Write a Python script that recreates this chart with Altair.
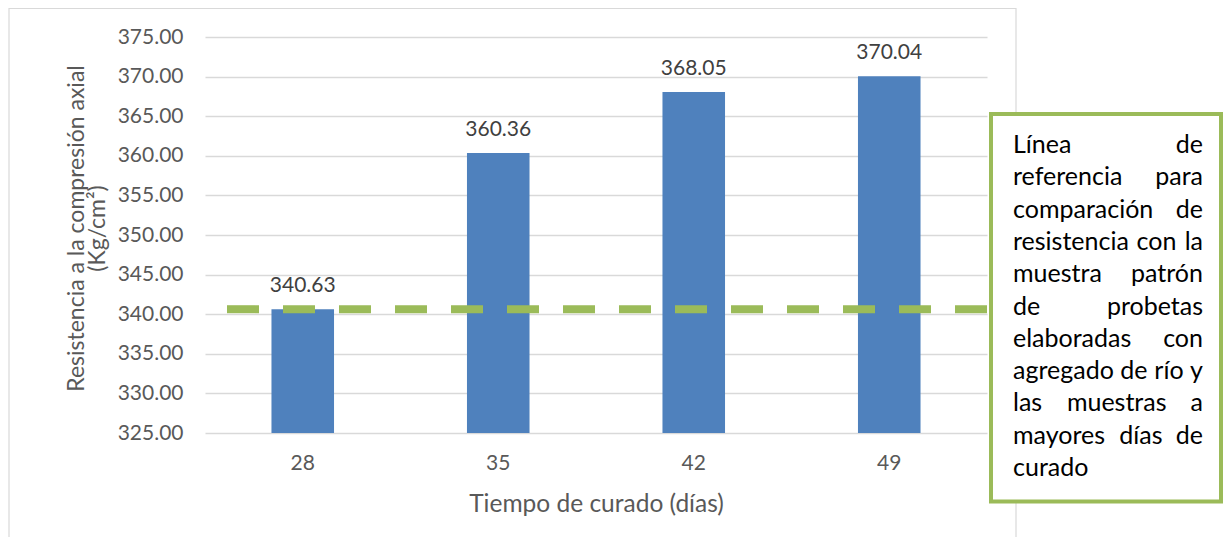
import altair as alt
import pandas as pd

# ---------------- data ----------------
dias = ["28", "35", "42", "49"]
resistencia = [340.63, 360.36, 368.05, 370.04]
referencia = 340.63
y_ticks = [325, 330, 335, 340, 345, 350, 355, 360, 365, 370, 375]
y_title = ["Resistencia a la compresión axial", "(Kg/cm²)"]
x_title = "Tiempo de curado (días)"
nota_lineas = [
    ["Línea", "de"],
    ["referencia", "para"],
    ["comparación", "de"],
    ["resistencia", "con", "la"],
    ["muestra", "patrón"],
    ["de", "probetas"],
    ["elaboradas", "con"],
    ["agregado", "de", "río", "y"],
    ["las", "muestras", "a"],
    ["mayores", "días", "de"],
    ["curado"],
]

# ---------------- layout ----------------
FONT = "Lato"
W, H = 782, 396
PAD_L, PAD_T = 197, 29
BOX_FS = 25
BOX_X0, BOX_X1 = 808, 998   # text block edges (plot coords)
BOX_Y0, BOX_DY = 108, 32.3

# approximate glyph advances (em) for justified layout
adv = {c: 0.55 for c in "abcdeghknopqsuvxyzáéóú"}
adv.update({"i": 0.24, "í": 0.24, "l": 0.24, "j": 0.24, "f": 0.32, "t": 0.34,
            "r": 0.37, "m": 0.83, "w": 0.76, "s": 0.42, "c": 0.46, "a": 0.50,
            "L": 0.49, "y": 0.49, "e": 0.52, "g": 0.50})

def wlen(word):
    return sum(adv.get(ch, 0.55) for ch in word) * BOX_FS

left_rows, right_rows = [], []
for i, words in enumerate(nota_lineas):
    yy = BOX_Y0 + i * BOX_DY
    if len(words) == 1:
        left_rows.append({"w": words[0], "px": BOX_X0, "py": yy})
        continue
    total = sum(wlen(w) for w in words)
    gap = (BOX_X1 - BOX_X0 - total) / (len(words) - 1)
    x = BOX_X0
    for j, w in enumerate(words):
        if j == len(words) - 1:
            right_rows.append({"w": w, "px": BOX_X1, "py": yy})
        else:
            left_rows.append({"w": w, "px": x, "py": yy})
        x += wlen(w) + gap

df = pd.DataFrame({"dia": dias, "valor": resistencia})
yscale = alt.Scale(domain=[y_ticks[0], y_ticks[-1]], nice=False, zero=False)
xscale = alt.Scale(domain=dias, paddingInner=0.68, paddingOuter=0.34)

x_axis = alt.Axis(labelAngle=0, ticks=False, domain=False, labelFontSize=21,
                  labelColor="#595959", labelPadding=19, titleFontSize=24.5,
                  titleColor="#595959", titleFontWeight="normal", titlePadding=19,
                  labelFont=FONT, titleFont=FONT, grid=False)
y_axis = alt.Axis(values=y_ticks, format=".2f", ticks=False, domain=False,
                  labelFontSize=21, labelColor="#595959", labelPadding=22,
                  labelFont=FONT, titleFont=FONT, titleFontSize=23,
                  titleColor="#595959", titleFontWeight="normal",
                  titleLineHeight=21, titleBaseline="middle", titleAngle=270,
                  titleX=-129, titleY=191,
                  grid=True, gridColor="#d9d9d9", gridWidth=1.3)

frame = alt.Chart(pd.DataFrame({"k": [0]})).mark_rect(
    fillOpacity=0, stroke="#d9d9d9", strokeWidth=1.2).encode(
    x=alt.value(-196), x2=alt.value(811), y=alt.value(-28.5), y2=alt.value(560))

bars = alt.Chart(df).mark_bar(color="#4F81BD").encode(
    x=alt.X("dia:N", sort=dias, title=x_title, scale=xscale, axis=x_axis),
    y=alt.Y("valor:Q", title=y_title, scale=yscale, axis=y_axis),
    y2=alt.datum(y_ticks[0]),
)

labels = alt.Chart(df).mark_text(baseline="bottom", dy=-13, fontSize=21,
                                 color="#404040", font=FONT).encode(
    x=alt.X("dia:N", sort=dias, scale=xscale, axis=None),
    y=alt.Y("valor:Q", scale=yscale, axis=None),
    text=alt.Text("valor:Q", format=".2f"),
)

rule = alt.Chart(pd.DataFrame({"ref": [referencia]})).mark_rule(
    color="#9BBB59", strokeWidth=8, strokeDash=[32, 24]).encode(
    y=alt.Y("ref:Q", scale=yscale, axis=None),
    x=alt.value(22), x2=alt.value(800),
)

box = alt.Chart(pd.DataFrame({"k": [0]})).mark_rect(
    fill="white", stroke="#9BBB59", strokeWidth=4).encode(
    x=alt.value(786), x2=alt.value(1016), y=alt.value(77), y2=alt.value(464.5))

words_l = alt.Chart(pd.DataFrame(left_rows)).mark_text(
    align="left", baseline="middle", fontSize=BOX_FS, font=FONT, color="#000000").encode(
    x=alt.X("px:Q", scale=None, axis=None), y=alt.Y("py:Q", scale=None, axis=None), text="w:N")
words_r = alt.Chart(pd.DataFrame(right_rows)).mark_text(
    align="right", baseline="middle", fontSize=BOX_FS, font=FONT, color="#000000").encode(
    x=alt.X("px:Q", scale=None, axis=None), y=alt.Y("py:Q", scale=None, axis=None), text="w:N")

chart = alt.layer(frame, bars, labels, rule, box, words_l, words_r).resolve_scale(
    x="independent", y="independent"
).properties(
    width=W, height=H,
    autosize=alt.AutoSizeParams(type="none"),
    padding={"left": PAD_L, "top": PAD_T, "right": 236, "bottom": 104},
    background="white",
).configure_view(strokeWidth=0)

chart.save("out.html", embed_options={"renderer": "svg", "actions": False})
